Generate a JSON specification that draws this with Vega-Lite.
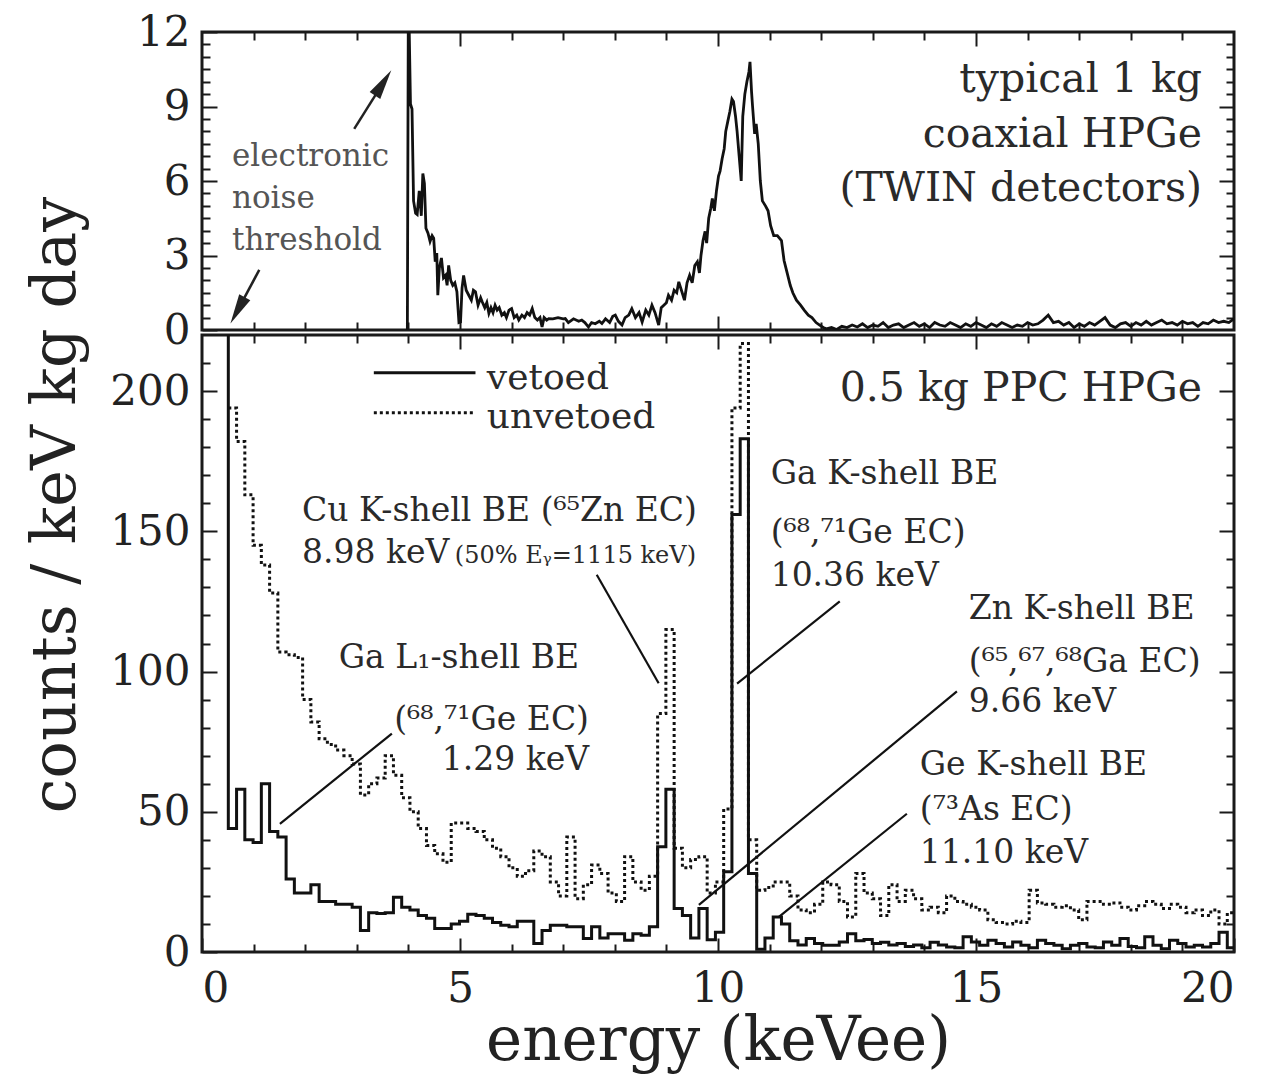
{
  "$schema": "https://vega.github.io/schema/vega-lite/v6.json",
  "background": "white",
  "padding": {"left": 25, "top": 9, "right": 30, "bottom": 2},
  "spacing": 5,
  "bounds": "flush",
  "title": {"text": "counts / keV kg day", "orient": "left", "anchor": "middle", "frame": "bounds", "fontSize": 62, "fontWeight": "normal", "font": "DejaVu Serif", "color": "#222", "offset": 20, "dx": 36},
  "config": {
    "font": "DejaVu Serif",
    "view": {"stroke": "#1a1a1a", "strokeWidth": 3},
    "axis": {"domain": false, "grid": false, "tickColor": "#1a1a1a", "tickWidth": 2, "labelColor": "#222", "labelFont": "DejaVu Serif", "labelFontSize": 42, "titleFont": "DejaVu Serif", "titleFontWeight": "normal", "titleColor": "#222", "labelPadding": 0},
    "text": {"font": "DejaVu Serif", "color": "#2a2a2a"}
  },
  "datasets": {
    "twin": [
      {"E":3.98,"V":0},{"E":4.0,"V":14},{"E":4.04,"V":9.1},{"E":4.07,"V":8.9},{"E":4.1,"V":5.2},{"E":4.14,"V":4.7},{"E":4.17,"V":4.65},{"E":4.21,"V":5.6},{"E":4.25,"V":4.6},{"E":4.28,"V":6.3},{"E":4.31,"V":5.9},{"E":4.34,"V":4.1},{"E":4.38,"V":3.9},{"E":4.42,"V":3.57},{"E":4.46,"V":3.8},{"E":4.49,"V":3.7},{"E":4.52,"V":2.75},{"E":4.55,"V":3.1},{"E":4.57,"V":1.4},{"E":4.6,"V":2.5},{"E":4.64,"V":2.9},{"E":4.68,"V":2.1},{"E":4.72,"V":2.2},{"E":4.75,"V":1.8},{"E":4.78,"V":2.6},{"E":4.82,"V":2.0},{"E":4.86,"V":1.8},{"E":4.9,"V":1.9},{"E":4.94,"V":1.54},{"E":4.98,"V":0.3},{"E":5.01,"V":0.32},{"E":5.04,"V":1.7},{"E":5.07,"V":2.2},{"E":5.12,"V":1.6},{"E":5.17,"V":1.4},{"E":5.22,"V":1.2},{"E":5.26,"V":1.6},{"E":5.3,"V":1.54},{"E":5.35,"V":1.0},{"E":5.4,"V":1.3},{"E":5.43,"V":1.14},{"E":5.48,"V":0.9},{"E":5.52,"V":1.1},{"E":5.56,"V":0.67},{"E":5.6,"V":0.9},{"E":5.64,"V":0.7},{"E":5.68,"V":1.0},{"E":5.72,"V":0.8},{"E":5.76,"V":0.9},{"E":5.81,"V":0.6},{"E":5.86,"V":0.7},{"E":5.9,"V":0.5},{"E":5.95,"V":0.8},{"E":6.0,"V":0.86},{"E":6.05,"V":0.5},{"E":6.1,"V":0.6},{"E":6.14,"V":0.4},{"E":6.2,"V":0.6},{"E":6.25,"V":0.5},{"E":6.3,"V":0.7},{"E":6.35,"V":0.6},{"E":6.4,"V":0.86},{"E":6.45,"V":0.5},{"E":6.5,"V":0.4},{"E":6.55,"V":0.5},{"E":6.59,"V":0.12},{"E":6.63,"V":0.5},{"E":6.68,"V":0.4},{"E":6.72,"V":0.46},{"E":6.8,"V":0.45},{"E":6.9,"V":0.5},{"E":7.0,"V":0.45},{"E":7.04,"V":0.46},{"E":7.1,"V":0.3},{"E":7.2,"V":0.45},{"E":7.3,"V":0.35},{"E":7.36,"V":0.4},{"E":7.42,"V":0.3},{"E":7.49,"V":0.12},{"E":7.55,"V":0.3},{"E":7.62,"V":0.25},{"E":7.7,"V":0.35},{"E":7.75,"V":0.26},{"E":7.82,"V":0.45},{"E":7.9,"V":0.3},{"E":7.96,"V":0.55},{"E":8.01,"V":0.6},{"E":8.07,"V":0.35},{"E":8.14,"V":0.2},{"E":8.2,"V":0.5},{"E":8.27,"V":0.6},{"E":8.33,"V":0.86},{"E":8.4,"V":0.5},{"E":8.47,"V":0.7},{"E":8.53,"V":0.32},{"E":8.6,"V":0.8},{"E":8.66,"V":0.6},{"E":8.72,"V":1.0},{"E":8.78,"V":0.7},{"E":8.85,"V":0.2},{"E":8.9,"V":0.9},{"E":8.95,"V":1.0},{"E":9.0,"V":1.1},{"E":9.04,"V":1.4},{"E":9.1,"V":1.2},{"E":9.15,"V":1.6},{"E":9.2,"V":1.5},{"E":9.24,"V":1.94},
      {"E":9.3,"V":1.54},{"E":9.35,"V":1.2},{"E":9.4,"V":1.9},{"E":9.45,"V":2.2},{"E":9.5,"V":1.9},{"E":9.55,"V":2.6},{"E":9.6,"V":2.75},{"E":9.64,"V":2.3},{"E":9.67,"V":3.0},{"E":9.71,"V":3.6},{"E":9.75,"V":3.97},{"E":9.78,"V":3.5},{"E":9.82,"V":4.5},{"E":9.86,"V":4.9},{"E":9.89,"V":5.3},{"E":9.93,"V":4.8},{"E":9.97,"V":5.6},{"E":10.01,"V":6.2},{"E":10.04,"V":6.4},{"E":10.08,"V":6.9},{"E":10.12,"V":7.3},{"E":10.15,"V":8.0},{"E":10.19,"V":8.4},{"E":10.23,"V":8.8},{"E":10.27,"V":9.3},{"E":10.3,"V":9.2},{"E":10.34,"V":8.6},{"E":10.37,"V":8.0},{"E":10.41,"V":7.0},{"E":10.45,"V":6.0},{"E":10.48,"V":8.6},{"E":10.52,"V":9.5},{"E":10.56,"V":10.0},{"E":10.6,"V":10.4},{"E":10.62,"V":10.8},{"E":10.65,"V":9.6},{"E":10.67,"V":9.0},{"E":10.71,"V":7.9},{"E":10.74,"V":8.3},{"E":10.78,"V":7.5},{"E":10.82,"V":6.0},{"E":10.86,"V":5.2},{"E":10.92,"V":5.0},{"E":10.97,"V":4.8},{"E":11.02,"V":4.2},{"E":11.08,"V":3.8},{"E":11.15,"V":3.8},{"E":11.23,"V":3.6},{"E":11.28,"V":2.8},{"E":11.34,"V":2.3},{"E":11.4,"V":1.8},{"E":11.45,"V":1.5},{"E":11.52,"V":1.2},{"E":11.6,"V":1.0},{"E":11.67,"V":0.8},{"E":11.75,"V":0.6},{"E":11.82,"V":0.5},{"E":11.9,"V":0.3},{"E":11.97,"V":0.2},{"E":12.04,"V":0.1},
      {"E":12.1,"V":0.05},{"E":12.2,"V":0.1},{"E":12.3,"V":0.02},{"E":12.4,"V":0.15},{"E":12.5,"V":0.1},{"E":12.6,"V":0.2},{"E":12.7,"V":0.12},{"E":12.8,"V":0.25},{"E":12.9,"V":0.1},{"E":13.0,"V":0.2},{"E":13.1,"V":0.15},{"E":13.2,"V":0.3},{"E":13.3,"V":0.1},{"E":13.4,"V":0.2},{"E":13.5,"V":0.25},{"E":13.6,"V":0.1},{"E":13.7,"V":0.2},{"E":13.8,"V":0.3},{"E":13.9,"V":0.15},{"E":14.0,"V":0.25},{"E":14.1,"V":0.1},{"E":14.2,"V":0.3},{"E":14.3,"V":0.2},{"E":14.4,"V":0.15},{"E":14.5,"V":0.3},{"E":14.6,"V":0.2},{"E":14.7,"V":0.1},{"E":14.8,"V":0.25},{"E":14.9,"V":0.15},{"E":15.0,"V":0.3},{"E":15.1,"V":0.2},{"E":15.2,"V":0.1},{"E":15.3,"V":0.25},{"E":15.4,"V":0.15},{"E":15.5,"V":0.3},{"E":15.6,"V":0.2},{"E":15.7,"V":0.1},{"E":15.8,"V":0.2},{"E":15.9,"V":0.15},{"E":16.0,"V":0.3},{"E":16.1,"V":0.2},{"E":16.2,"V":0.25},{"E":16.3,"V":0.4},{"E":16.4,"V":0.6},{"E":16.5,"V":0.3},{"E":16.6,"V":0.35},{"E":16.7,"V":0.2},{"E":16.8,"V":0.3},{"E":16.9,"V":0.1},{"E":17.0,"V":0.25},{"E":17.1,"V":0.15},{"E":17.2,"V":0.3},{"E":17.3,"V":0.2},{"E":17.4,"V":0.35},{"E":17.5,"V":0.5},{"E":17.6,"V":0.2},{"E":17.7,"V":0.1},{"E":17.8,"V":0.25},{"E":17.9,"V":0.3},{"E":18.0,"V":0.15},{"E":18.1,"V":0.3},{"E":18.2,"V":0.2},{"E":18.3,"V":0.35},{"E":18.4,"V":0.2},{"E":18.5,"V":0.3},{"E":18.6,"V":0.4},{"E":18.7,"V":0.25},{"E":18.8,"V":0.3},{"E":18.9,"V":0.2},{"E":19.0,"V":0.35},{"E":19.1,"V":0.25},{"E":19.2,"V":0.3},{"E":19.3,"V":0.15},{"E":19.4,"V":0.3},{"E":19.5,"V":0.25},{"E":19.6,"V":0.4},{"E":19.7,"V":0.3},{"E":19.8,"V":0.35},{"E":19.9,"V":0.3},{"E":20.0,"V":0.45}
    ],
    "ppc": [
      {"E":0.35,"vet":300,"unv":null},
      {"E":0.51,"vet":44,"unv":194},{"E":0.67,"vet":58,"unv":182},{"E":0.83,"vet":40,"unv":163},{"E":0.99,"vet":39,"unv":145},{"E":1.15,"vet":60,"unv":138},{"E":1.31,"vet":43,"unv":128},{"E":1.47,"vet":41,"unv":107},{"E":1.63,"vet":26,"unv":106},{"E":1.79,"vet":21,"unv":105},{"E":1.95,"vet":21,"unv":90},
      {"E":2.11,"vet":24,"unv":82},{"E":2.27,"vet":18,"unv":76},{"E":2.43,"vet":18,"unv":74},{"E":2.59,"vet":17,"unv":72},{"E":2.75,"vet":17,"unv":70},{"E":2.91,"vet":16,"unv":67},{"E":3.07,"vet":7.7,"unv":56},{"E":3.23,"vet":14,"unv":60},{"E":3.39,"vet":13.7,"unv":62},{"E":3.55,"vet":14,"unv":70},
      {"E":3.71,"vet":19.5,"unv":63},{"E":3.87,"vet":16,"unv":55},{"E":4.03,"vet":15,"unv":50},{"E":4.19,"vet":13,"unv":44},{"E":4.35,"vet":12,"unv":38},{"E":4.51,"vet":8.4,"unv":35},{"E":4.67,"vet":8.4,"unv":32},{"E":4.83,"vet":10,"unv":46},{"E":4.99,"vet":11,"unv":46},{"E":5.15,"vet":13.5,"unv":44},
      {"E":5.31,"vet":13,"unv":43},{"E":5.47,"vet":12,"unv":40},{"E":5.63,"vet":10.5,"unv":37},{"E":5.79,"vet":9.5,"unv":34},{"E":5.95,"vet":9,"unv":30},{"E":6.11,"vet":11,"unv":27},{"E":6.27,"vet":11,"unv":29},{"E":6.43,"vet":3,"unv":36},{"E":6.59,"vet":7.7,"unv":34},{"E":6.75,"vet":9.5,"unv":25},
      {"E":6.91,"vet":9.5,"unv":20},{"E":7.07,"vet":9,"unv":41},{"E":7.23,"vet":9,"unv":19},{"E":7.39,"vet":4.8,"unv":24},{"E":7.55,"vet":9,"unv":31},{"E":7.71,"vet":5,"unv":28},{"E":7.87,"vet":6.5,"unv":21},{"E":8.03,"vet":6.5,"unv":18},{"E":8.19,"vet":4.2,"unv":34},{"E":8.35,"vet":6.5,"unv":25},
      {"E":8.51,"vet":6,"unv":22},{"E":8.67,"vet":9,"unv":27},{"E":8.83,"vet":37.5,"unv":85},{"E":8.99,"vet":58,"unv":115},{"E":9.15,"vet":15.5,"unv":37},{"E":9.31,"vet":13,"unv":30},{"E":9.47,"vet":5,"unv":33},{"E":9.63,"vet":15.5,"unv":34},{"E":9.79,"vet":4.4,"unv":21},{"E":9.95,"vet":7,"unv":25},
      {"E":10.11,"vet":28.6,"unv":51},{"E":10.27,"vet":156,"unv":194},{"E":10.43,"vet":183,"unv":217},{"E":10.59,"vet":28,"unv":40},{"E":10.75,"vet":1,"unv":22},{"E":10.91,"vet":5,"unv":23},{"E":11.07,"vet":12.5,"unv":25},{"E":11.23,"vet":10,"unv":25},{"E":11.39,"vet":4,"unv":20},{"E":11.55,"vet":2.5,"unv":15},
      {"E":11.71,"vet":4.8,"unv":14},{"E":11.87,"vet":3,"unv":17},{"E":12.03,"vet":2.4,"unv":25},{"E":12.19,"vet":2.4,"unv":24},{"E":12.35,"vet":3.6,"unv":18},{"E":12.51,"vet":6.5,"unv":12.5},{"E":12.67,"vet":4,"unv":28},{"E":12.83,"vet":4.5,"unv":21},{"E":12.99,"vet":3,"unv":19},{"E":13.15,"vet":3.5,"unv":13},
      {"E":13.31,"vet":2.5,"unv":24},{"E":13.47,"vet":3,"unv":18},{"E":13.63,"vet":2,"unv":22},{"E":13.79,"vet":2.5,"unv":19},{"E":13.95,"vet":1.5,"unv":15},{"E":14.11,"vet":3.5,"unv":16},{"E":14.27,"vet":2.5,"unv":14},{"E":14.43,"vet":1.8,"unv":20},{"E":14.59,"vet":1.5,"unv":18},{"E":14.75,"vet":5.4,"unv":17},
      {"E":14.91,"vet":3.6,"unv":16},{"E":15.07,"vet":2.4,"unv":15},{"E":15.23,"vet":4.2,"unv":11.5},{"E":15.39,"vet":3,"unv":10.5},{"E":15.55,"vet":1.8,"unv":10},{"E":15.71,"vet":3.6,"unv":11},{"E":15.87,"vet":2.4,"unv":10.5},{"E":16.03,"vet":1.5,"unv":22},{"E":16.19,"vet":4.2,"unv":17.5},{"E":16.35,"vet":3,"unv":17},
      {"E":16.51,"vet":2.4,"unv":16},{"E":16.67,"vet":1.2,"unv":16.5},{"E":16.83,"vet":2.4,"unv":15},{"E":16.99,"vet":3,"unv":11.5},{"E":17.15,"vet":1.8,"unv":18},{"E":17.31,"vet":1.5,"unv":18},{"E":17.47,"vet":3.6,"unv":17},{"E":17.63,"vet":2.4,"unv":17.5},{"E":17.79,"vet":4.8,"unv":16},{"E":17.95,"vet":2,"unv":15},
      {"E":18.11,"vet":1.5,"unv":16.5},{"E":18.27,"vet":5.4,"unv":18},{"E":18.43,"vet":2.4,"unv":17},{"E":18.59,"vet":1.2,"unv":15.5},{"E":18.75,"vet":4.2,"unv":17},{"E":18.91,"vet":3,"unv":16},{"E":19.07,"vet":1.8,"unv":14},{"E":19.23,"vet":2.4,"unv":15},{"E":19.39,"vet":1.8,"unv":13},{"E":19.55,"vet":3,"unv":15},
      {"E":19.71,"vet":7,"unv":10},{"E":19.87,"vet":1.5,"unv":14},{"E":20.0,"vet":1.5,"unv":14}
    ]
  },
  "vconcat": [
    {
      "width": 1032,
      "height": 298,
      "layer": [
        {
          "data": {"name": "twin"},
          "mark": {"type": "line", "color": "#111", "strokeWidth": 2.8, "clip": true},
          "encoding": {
            "x": {"field": "E", "type": "quantitative", "scale": {"domain": [0, 20], "nice": false, "zero": false},
                  "axis": {"orient": "bottom", "values": [5, 10, 15], "labels": false, "tickSize": -14, "title": null}},
            "y": {"field": "V", "type": "quantitative", "scale": {"domain": [0, 12], "nice": false},
                  "axis": {"orient": "left", "values": [0, 3, 6, 9, 12], "tickSize": -15, "labelPadding": 27, "title": null}}
          }
        },
        {
          "data": {"values": [{"E": 0, "V": 0}]},
          "mark": {"type": "point", "opacity": 0},
          "encoding": {
            "x": {"field": "E", "type": "quantitative", "axis": {"orient": "bottom", "values": [1,2,3,4,6,7,8,9,11,12,13,14,16,17,18,19], "labels": false, "tickSize": -8, "title": null}},
            "y": {"field": "V", "type": "quantitative", "axis": {"orient": "left", "values": [0.5,1,1.5,2,2.5,3.5,4,4.5,5,5.5,6.5,7,7.5,8,8.5,9.5,10,10.5,11,11.5], "labels": false, "tickSize": -8, "title": null}}
          }
        },
        {
          "data": {"values": [{"E": 0, "V": 0}]},
          "mark": {"type": "point", "opacity": 0},
          "encoding": {
            "x": {"field": "E", "type": "quantitative", "axis": {"orient": "top", "values": [5, 10, 15], "labels": false, "tickSize": -14, "title": null}},
            "y": {"field": "V", "type": "quantitative", "axis": {"orient": "right", "values": [3, 6, 9], "labels": false, "tickSize": -15, "title": null}}
          }
        },
        {
          "data": {"values": [{"E": 0, "V": 0}]},
          "mark": {"type": "point", "opacity": 0},
          "encoding": {
            "x": {"field": "E", "type": "quantitative", "axis": {"orient": "top", "values": [1,2,3,4,6,7,8,9,11,12,13,14,16,17,18,19], "labels": false, "tickSize": -8, "title": null}},
            "y": {"field": "V", "type": "quantitative", "axis": {"orient": "right", "values": [0.5,1,1.5,2,2.5,3.5,4,4.5,5,5.5,6.5,7,7.5,8,8.5,9.5,10,10.5,11,11.5], "labels": false, "tickSize": -8, "title": null}}
          }
        },
        {
          "data": {"values": [
            {"E": 19.38, "V": 9.57, "t": "typical 1 kg"},
            {"E": 19.38, "V": 7.38, "t": "coaxial HPGe"},
            {"E": 19.38, "V": 5.19, "t": "(TWIN detectors)"}
          ]},
          "mark": {"type": "text", "align": "right", "baseline": "alphabetic", "fontSize": 41},
          "encoding": {
            "x": {"field": "E", "type": "quantitative", "axis": null},
            "y": {"field": "V", "type": "quantitative", "axis": null},
            "text": {"field": "t"}
          }
        },
        {
          "data": {"values": [
            {"E": 0.58, "V": 6.6, "t": "electronic"},
            {"E": 0.58, "V": 4.9, "t": "noise"},
            {"E": 0.58, "V": 3.24, "t": "threshold"}
          ]},
          "mark": {"type": "text", "align": "left", "baseline": "alphabetic", "fontSize": 31, "color": "#555"},
          "encoding": {
            "x": {"field": "E", "type": "quantitative", "axis": null},
            "y": {"field": "V", "type": "quantitative", "axis": null},
            "text": {"field": "t"}
          }
        },
        {
          "data": {"values": [
            {"E": 2.95, "V": 8.1, "E2": 3.51, "V2": 9.95},
            {"E": 1.11, "V": 2.42, "E2": 0.69, "V2": 0.79}
          ]},
          "mark": {"type": "rule", "color": "#222", "strokeWidth": 2.5},
          "encoding": {
            "x": {"field": "E", "type": "quantitative", "axis": null},
            "y": {"field": "V", "type": "quantitative", "axis": null},
            "x2": {"field": "E2"},
            "y2": {"field": "V2"}
          }
        },
        {
          "data": {"values": [{"E": 3.51, "V": 9.95}]},
          "mark": {"type": "point", "shape": "M0,-1L0.42,1L-0.42,1Z", "filled": true, "size": 900, "angle": 33, "color": "#222", "opacity": 1},
          "encoding": {
            "x": {"field": "E", "type": "quantitative", "axis": null},
            "y": {"field": "V", "type": "quantitative", "axis": null}
          }
        },
        {
          "data": {"values": [{"E": 0.69, "V": 0.79}]},
          "mark": {"type": "point", "shape": "M0,-1L0.42,1L-0.42,1Z", "filled": true, "size": 900, "angle": 208.5, "color": "#222", "opacity": 1},
          "encoding": {
            "x": {"field": "E", "type": "quantitative", "axis": null},
            "y": {"field": "V", "type": "quantitative", "axis": null}
          }
        }
      ],
      "resolve": {"axis": {"x": "independent", "y": "independent"}}
    },
    {
      "width": 1032,
      "height": 617,
      "layer": [
        {
          "data": {"name": "ppc"},
          "transform": [{"filter": "datum.unv != null"}],
          "mark": {"type": "line", "interpolate": "step-after", "color": "#111", "strokeWidth": 3, "strokeDash": [3, 3], "clip": true},
          "encoding": {
            "x": {"field": "E", "type": "quantitative", "scale": {"domain": [0, 20], "nice": false, "zero": false},
                  "axis": {"orient": "bottom", "values": [0, 5, 10, 15, 20], "tickSize": -14, "labelPadding": 30, "labelFontSize": 42, "title": "energy (keVee)", "titleFontSize": 61, "titlePadding": 2}},
            "y": {"field": "unv", "type": "quantitative", "scale": {"domain": [0, 220], "nice": false},
                  "axis": {"orient": "left", "values": [0, 50, 100, 150, 200], "tickSize": -15, "labelPadding": 27, "title": null}}
          }
        },
        {
          "data": {"name": "ppc"},
          "mark": {"type": "line", "interpolate": "step-after", "color": "#111", "strokeWidth": 3, "clip": true},
          "encoding": {
            "x": {"field": "E", "type": "quantitative", "axis": {"orient": "bottom", "values": [1,2,3,4,6,7,8,9,11,12,13,14,16,17,18,19], "labels": false, "tickSize": -8, "title": null}},
            "y": {"field": "vet", "type": "quantitative", "axis": {"orient": "left", "values": [10,20,30,40,60,70,80,90,110,120,130,140,160,170,180,190,210], "labels": false, "tickSize": -8, "title": null}}
          }
        },
        {
          "data": {"values": [{"E": 0, "V": 0}]},
          "mark": {"type": "point", "opacity": 0},
          "encoding": {
            "x": {"field": "E", "type": "quantitative", "axis": {"orient": "top", "values": [5, 10, 15], "labels": false, "tickSize": -14, "title": null}},
            "y": {"field": "V", "type": "quantitative", "axis": {"orient": "right", "values": [50, 100, 150, 200], "labels": false, "tickSize": -15, "title": null}}
          }
        },
        {
          "data": {"values": [{"E": 0, "V": 0}]},
          "mark": {"type": "point", "opacity": 0},
          "encoding": {
            "x": {"field": "E", "type": "quantitative", "axis": {"orient": "top", "values": [1,2,3,4,6,7,8,9,11,12,13,14,16,17,18,19], "labels": false, "tickSize": -8, "title": null}},
            "y": {"field": "V", "type": "quantitative", "axis": {"orient": "right", "values": [10,20,30,40,60,70,80,90,110,120,130,140,160,170,180,190,210], "labels": false, "tickSize": -8, "title": null}}
          }
        },
        {
          "data": {"values": [{"E": 3.33, "E2": 5.3, "V": 206.5}]},
          "mark": {"type": "rule", "color": "#111", "strokeWidth": 3},
          "encoding": {
            "x": {"field": "E", "type": "quantitative", "axis": null},
            "x2": {"field": "E2"},
            "y": {"field": "V", "type": "quantitative", "axis": null}
          }
        },
        {
          "data": {"values": [{"E": 3.33, "E2": 5.3, "V": 192.3}]},
          "mark": {"type": "rule", "color": "#111", "strokeWidth": 3, "strokeDash": [3, 3]},
          "encoding": {
            "x": {"field": "E", "type": "quantitative", "axis": null},
            "x2": {"field": "E2"},
            "y": {"field": "V", "type": "quantitative", "axis": null}
          }
        },
        {
          "data": {"values": [
            {"E": 5.52, "V": 200.7, "t": "vetoed"},
            {"E": 5.52, "V": 186.9, "t": "unvetoed"}
          ]},
          "mark": {"type": "text", "align": "left", "baseline": "alphabetic", "fontSize": 36},
          "encoding": {
            "x": {"field": "E", "type": "quantitative", "axis": null},
            "y": {"field": "V", "type": "quantitative", "axis": null},
            "text": {"field": "t"}
          }
        },
        {
          "data": {"values": [{"E": 19.38, "V": 196.4, "t": "0.5 kg PPC HPGe"}]},
          "mark": {"type": "text", "align": "right", "baseline": "alphabetic", "fontSize": 41},
          "encoding": {
            "x": {"field": "E", "type": "quantitative", "axis": null},
            "y": {"field": "V", "type": "quantitative", "axis": null},
            "text": {"field": "t"}
          }
        },
        {
          "data": {"values": [
            {"E": 7.65, "V": 134.5, "E2": 8.85, "V2": 95.8},
            {"E": 1.51, "V": 45.7, "E2": 3.68, "V2": 77.9},
            {"E": 10.37, "V": 95.7, "E2": 12.36, "V2": 125},
            {"E": 9.63, "V": 16.8, "E2": 14.63, "V2": 92.9},
            {"E": 11.18, "V": 12.5, "E2": 13.66, "V2": 49.3}
          ]},
          "mark": {"type": "rule", "color": "#111", "strokeWidth": 2.2},
          "encoding": {
            "x": {"field": "E", "type": "quantitative", "axis": null},
            "y": {"field": "V", "type": "quantitative", "axis": null},
            "x2": {"field": "E2"},
            "y2": {"field": "V2"}
          }
        },
        {
          "data": {"values": [
            {"E": 1.94, "V": 153.6, "t": "Cu K-shell BE (⁶⁵Zn EC)"},
            {"E": 1.94, "V": 138.7, "t": "8.98 keV"},
            {"E": 11.02, "V": 166.7, "t": "Ga K-shell BE"},
            {"E": 11.02, "V": 145.8, "t": "(⁶⁸,⁷¹Ge EC)"},
            {"E": 11.02, "V": 130.4, "t": "10.36 keV"},
            {"E": 14.86, "V": 118.9, "t": "Zn K-shell BE"},
            {"E": 14.86, "V": 100, "t": "(⁶⁵,⁶⁷,⁶⁸Ga EC)"},
            {"E": 14.86, "V": 85.7, "t": "9.66 keV"},
            {"E": 13.91, "V": 63.2, "t": "Ge K-shell BE"},
            {"E": 13.91, "V": 47.1, "t": "(⁷³As EC)"},
            {"E": 13.91, "V": 31.8, "t": "11.10 keV"}
          ]},
          "mark": {"type": "text", "align": "left", "baseline": "alphabetic", "fontSize": 33},
          "encoding": {
            "x": {"field": "E", "type": "quantitative", "axis": null},
            "y": {"field": "V", "type": "quantitative", "axis": null},
            "text": {"field": "t"}
          }
        },
        {
          "data": {"values": [
            {"E": 7.31, "V": 101.2, "t": "Ga L₁-shell BE"},
            {"E": 7.5, "V": 79.2, "t": "(⁶⁸,⁷¹Ge EC)"},
            {"E": 7.5, "V": 64.9, "t": "1.29 keV"}
          ]},
          "mark": {"type": "text", "align": "right", "baseline": "alphabetic", "fontSize": 33},
          "encoding": {
            "x": {"field": "E", "type": "quantitative", "axis": null},
            "y": {"field": "V", "type": "quantitative", "axis": null},
            "text": {"field": "t"}
          }
        },
        {
          "data": {"values": [{"E": 4.9, "V": 138.7, "t": "(50% Eᵧ=1115 keV)"}]},
          "mark": {"type": "text", "align": "left", "baseline": "alphabetic", "fontSize": 24},
          "encoding": {
            "x": {"field": "E", "type": "quantitative", "axis": null},
            "y": {"field": "V", "type": "quantitative", "axis": null},
            "text": {"field": "t"}
          }
        }
      ],
      "resolve": {"axis": {"x": "independent", "y": "independent"}}
    }
  ]
}
